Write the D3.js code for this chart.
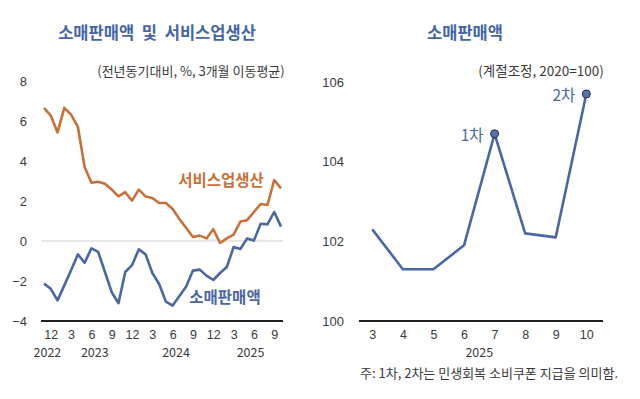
<!DOCTYPE html>
<html>
<head>
<meta charset="utf-8">
<script src="https://cdn.jsdelivr.net/npm/d3@7"></script>
<style>
  html, body { margin: 0; padding: 0; background: #fff; }
  svg { display: block; font-family: "Noto Sans CJK KR", "Noto Sans", sans-serif; }
</style>
</head>
<body>
<svg id="chart" width="640" height="399"></svg>
<script>
/*
 * Data
 * ========================================================================== */

// left panel: 2022-11 .. 2025-10, yoy %, 3m moving average
const months = [
  '2022-11', '2022-12',
  '2023-01', '2023-02', '2023-03', '2023-04', '2023-05', '2023-06',
  '2023-07', '2023-08', '2023-09', '2023-10', '2023-11', '2023-12',
  '2024-01', '2024-02', '2024-03', '2024-04', '2024-05', '2024-06',
  '2024-07', '2024-08', '2024-09', '2024-10', '2024-11', '2024-12',
  '2025-01', '2025-02', '2025-03', '2025-04', '2025-05', '2025-06',
  '2025-07', '2025-08', '2025-09', '2025-10'
];
const services = [
  6.66, 6.27, 5.43, 6.66, 6.32, 5.71, 3.70, 2.91, 2.96, 2.86, 2.57, 2.23,
  2.44, 2.02, 2.57, 2.23, 2.15, 1.90, 1.90, 1.60, 1.10, 0.65, 0.20, 0.27,
  0.13, 0.59, -0.10, 0.13, 0.32, 0.97, 1.04, 1.45, 1.85, 1.80, 3.05, 2.63
];
const retail = [
  -2.13, -2.39, -2.97, -2.22, -1.46, -0.67, -1.09, -0.37, -0.54, -1.55, -2.56, -3.11,
  -1.55, -1.21, -0.42, -0.67, -1.60, -2.15, -3.03, -3.23, -2.75, -2.28, -1.48, -1.43,
  -1.73, -1.95, -1.60, -1.30, -0.30, -0.40, 0.13, 0.02, 0.86, 0.83, 1.45, 0.72
];
const leftTicks = [-4, -2, 0, 2, 4, 6, 8];
const tickMonths = [12, 3, 6, 9];

// right panel: retail sales index 2025 (seasonally adjusted, 2020=100)
const rMonths = [3, 4, 5, 6, 7, 8, 9, 10];
const rValues = [102.3, 101.3, 101.3, 101.9, 104.7, 102.2, 102.1, 105.7];
const rTicks = [100, 102, 104, 106];
const coupons = [{ month: 7, label: '1차' }, { month: 10, label: '2차' }];

const BLUE = '#4a67a3',
      ORANGE = '#c8703a',
      TITLE = '#4466a6',
      TEXT = '#3a3a3a';

const svg = d3.select('#chart');

/*
 * Left panel
 */
let parse = d3.timeParse('%Y-%m');
let rows = months.map( (m, i) => ({ i: i, date: parse(m), services: services[i], retail: retail[i] }) );

let x = d3.scaleLinear().domain([0, months.length - 1]).range([44, 281]);
let y = d3.scaleLinear().domain([-4, 8]).range([321, 81]);

let left = svg.append('g');

left.append('text')
  .attr('x', 157).attr('y', 39)
  .attr('text-anchor', 'middle')
  .attr('font-size', 16.5).attr('font-weight', 700)
  .attr('word-spacing', 4)
  .attr('fill', TITLE)
  .text('소매판매액 및 서비스업생산');

left.append('text')
  .attr('x', 191).attr('y', 76)
  .attr('text-anchor', 'middle')
  .attr('font-size', 13).attr('fill', TEXT)
  .text('(전년동기대비, %, 3개월 이동평균)');

// zero line
left.append('line')
  .attr('x1', 41).attr('x2', 283)
  .attr('y1', y(0)).attr('y2', y(0))
  .attr('stroke', '#cfcfcf').attr('stroke-width', 1.2);

// y axis labels (no line)
let yAxis = left.append('g')
  .attr('transform', 'translate(27,0)')
  .call(d3.axisLeft(y).tickValues(leftTicks).tickSize(0).tickPadding(0).tickFormat(d3.format('d')));
yAxis.select('.domain').remove();
yAxis.selectAll('text').attr('font-size', 13).attr('fill', TEXT).attr('font-family', null);

// x axis
left.append('line')
  .attr('x1', 41).attr('x2', 283)
  .attr('y1', 321).attr('y2', 321)
  .attr('stroke', '#222').attr('stroke-width', 2);

let ticked = rows.filter( d => tickMonths.includes(d.date.getMonth() + 1) );
let xAxis = left.append('g')
  .attr('transform', 'translate(0,321)')
  .call(d3.axisBottom(x).tickValues(ticked.map(d => d.i)).tickSize(0).tickPadding(9)
    .tickFormat(i => rows[i].date.getMonth() + 1));
xAxis.select('.domain').remove();
xAxis.selectAll('text').attr('font-size', 12.5).attr('fill', TEXT).attr('font-family', null);

// year labels centred under the months of each year
let years = d3.groups(rows, d => d.date.getFullYear());
left.selectAll('text.year')
  .data(years)
  .enter().append('text')
    .attr('class', 'year')
    .attr('x', d => x((d[1][0].i + d[1][d[1].length - 1].i) / 2))
    .attr('y', 357)
    .attr('text-anchor', 'middle')
    .attr('font-size', 12.5).attr('fill', TEXT)
    .text(d => d[0]);

// lines
let line = key => d3.line().x(d => x(d.i)).y(d => y(d[key]));

left.append('path')
  .datum(rows)
  .attr('d', line('services'))
  .attr('fill', 'none').attr('stroke', ORANGE)
  .attr('stroke-width', 2.6).attr('stroke-linejoin', 'round');

left.append('path')
  .datum(rows)
  .attr('d', line('retail'))
  .attr('fill', 'none').attr('stroke', BLUE)
  .attr('stroke-width', 2.6).attr('stroke-linejoin', 'round');

// series labels
left.append('text')
  .attr('x', 221).attr('y', 186)
  .attr('text-anchor', 'middle')
  .attr('font-size', 15.5).attr('font-weight', 700)
  .attr('fill', ORANGE)
  .text('서비스업생산');

left.append('text')
  .attr('x', 225).attr('y', 303)
  .attr('text-anchor', 'middle')
  .attr('font-size', 15.5).attr('font-weight', 700)
  .attr('fill', BLUE)
  .text('소매판매액');

/*
 * Right panel
 */
let rx = d3.scaleLinear().domain([3, 10]).range([372.3, 586.3]);
let ry = d3.scaleLinear().domain([100, 106]).range([321, 82]);
let rRows = rMonths.map( (m, i) => ({ month: m, value: rValues[i] }) );

let right = svg.append('g');

right.append('text')
  .attr('x', 465).attr('y', 39)
  .attr('text-anchor', 'middle')
  .attr('font-size', 16.5).attr('font-weight', 700)
  .attr('fill', TITLE)
  .text('소매판매액');

right.append('text')
  .attr('x', 541).attr('y', 76)
  .attr('text-anchor', 'middle')
  .attr('font-size', 13.5).attr('fill', TEXT)
  .text('(계절조정, 2020=100)');

let ryAxis = right.append('g')
  .attr('transform', 'translate(344,0)')
  .call(d3.axisLeft(ry).tickValues(rTicks).tickSize(0).tickPadding(0).tickFormat(d3.format('d')));
ryAxis.select('.domain').remove();
ryAxis.selectAll('text').attr('font-size', 13).attr('fill', TEXT).attr('font-family', null);

right.append('line')
  .attr('x1', 359).attr('x2', 603)
  .attr('y1', 321).attr('y2', 321)
  .attr('stroke', '#222').attr('stroke-width', 2);

let rxAxis = right.append('g')
  .attr('transform', 'translate(0,321)')
  .call(d3.axisBottom(rx).tickValues(rMonths).tickSize(0).tickPadding(9).tickFormat(d3.format('d')));
rxAxis.select('.domain').remove();
rxAxis.selectAll('text').attr('font-size', 12.5).attr('fill', TEXT).attr('font-family', null);

right.append('text')
  .attr('x', (rx(3) + rx(10)) / 2).attr('y', 357)
  .attr('text-anchor', 'middle')
  .attr('font-size', 12.5).attr('fill', TEXT)
  .text('2025');

right.append('path')
  .datum(rRows)
  .attr('d', d3.line().x(d => rx(d.month)).y(d => ry(d.value)))
  .attr('fill', 'none').attr('stroke', BLUE)
  .attr('stroke-width', 2.6).attr('stroke-linejoin', 'round');

// coupon markers
let marks = right.selectAll('g.coupon')
  .data(coupons)
  .enter().append('g')
    .attr('class', 'coupon')
    .attr('transform', d => 'translate(' + rx(d.month) + ',' + ry(rValues[rMonths.indexOf(d.month)]) + ')');

marks.append('circle')
  .attr('r', 4)
  .attr('fill', '#5873ad')
  .attr('stroke', '#1f2d52').attr('stroke-width', 1);

marks.append('text')
  .attr('x', -11).attr('y', 7)
  .attr('text-anchor', 'end')
  .attr('font-size', 15.5)
  .attr('fill', BLUE)
  .text(d => d.label);

right.append('text')
  .attr('x', 360).attr('y', 378)
  .attr('font-size', 13).attr('fill', TEXT)
  .text('주: 1차, 2차는 민생회복 소비쿠폰 지급을 의미함.');
</script>
</body>
</html>
